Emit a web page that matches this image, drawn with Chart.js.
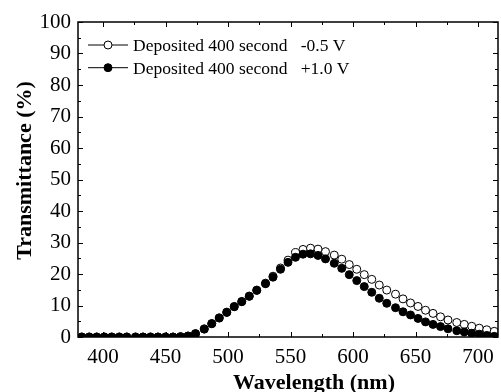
<!DOCTYPE html>
<html>
<head>
<meta charset="utf-8">
<script src="https://cdn.jsdelivr.net/npm/chart.js@4.4.0/dist/chart.umd.min.js"></script>
<style>
  html, body { margin: 0; padding: 0; background: #fff; overflow: hidden; }
  canvas { display: block; }
</style>
</head>
<body>
<canvas id="chart" width="503" height="392"></canvas>
<script>
// wavelength (nm) of each marker
const wavelengths = [383, 389, 395, 401, 407, 413, 419, 426, 432, 438, 444, 450, 456, 462, 468,
    474, 481, 487, 493, 499, 505, 511, 517, 523, 530,
    536, 542, 548, 554, 560, 566, 572, 578, 585, 591,
    597, 603, 609, 615, 621, 627, 634, 640, 646, 652,
    658, 664, 670, 676, 683, 689, 695, 701, 707, 713];

// transmittance (%) at -0.5 V (open circles)
const transNeg = [0, 0, 0, 0, 0, 0, 0, 0, 0, 0, 0, 0, 0, 0.1, 0.3,
    1.1, 2.6, 4.3, 6.1, 7.9, 9.7, 11.3, 13.0, 14.9, 17.1,
    19.3, 21.9, 24.4, 26.8, 27.8, 28.2, 27.9, 27.1, 26.0, 24.7,
    23.0, 21.5, 19.8, 18.3, 16.5, 14.9, 13.6, 12.1, 10.8, 9.7,
    8.5, 7.5, 6.4, 5.4, 4.6, 4.0, 3.4, 2.8, 2.3, 1.8];

// transmittance (%) at +1.0 V (filled circles)
const transPos = [0, 0, 0, 0, 0, 0, 0, 0, 0, 0, 0, 0, 0, 0.1, 0.3,
    1.0, 2.5, 4.2, 6.0, 7.8, 9.6, 11.2, 12.9, 14.8, 16.9,
    19.0, 21.5, 23.7, 25.3, 26.3, 26.4, 25.9, 24.8, 23.4, 21.8,
    19.8, 17.9, 16.0, 14.2, 12.3, 10.7, 9.3, 8.0, 7.0, 5.9,
    4.8, 4.0, 3.3, 2.6, 2.0, 1.6, 1.2, 0.9, 0.5, 0.2];

const seriesLabels = ['Deposited 400 second   -0.5 V', 'Deposited 400 second   +1.0 V'];

const xTicks = [400, 450, 500, 550, 600, 650, 700];
const xMinorTicks = [425, 475, 525, 575, 625, 675];
const yTicks = [0, 10, 20, 30, 40, 50, 60, 70, 80, 90, 100];
const yMinorTicks = [5, 15, 25, 35, 45, 55, 65, 75, 85, 95];

const serif = "'Liberation Serif', 'Times New Roman', serif";

function toPoints(values) {
    return wavelengths.map((w, i) => ({x: w, y: values[i]}));
}

// box, inward ticks, axis titles and the legend
const framePlugin = {
    id: 'frame',
    afterDraw(chart) {
        const ctx = chart.ctx;
        const a = chart.chartArea;
        const xs = chart.scales.x, ys = chart.scales.y;

        ctx.save();
        ctx.strokeStyle = '#000';
        ctx.lineWidth = 1.5;
        ctx.strokeRect(a.left, a.top, a.right - a.left, a.bottom - a.top);

        ctx.lineWidth = 1;
        const seg = (x1, y1, x2, y2) => {
            ctx.beginPath();
            ctx.moveTo(x1, y1);
            ctx.lineTo(x2, y2);
            ctx.stroke();
        };
        xTicks.forEach(v => {
            const px = Math.round(xs.getPixelForValue(v)) + 0.5;
            seg(px, a.bottom, px, a.bottom - 5);
            seg(px, a.top, px, a.top + 5);
        });
        xMinorTicks.forEach(v => {
            const px = Math.round(xs.getPixelForValue(v)) + 0.5;
            seg(px, a.bottom, px, a.bottom - 3);
            seg(px, a.top, px, a.top + 3);
        });
        yTicks.forEach(v => {
            const py = Math.round(ys.getPixelForValue(v)) + 0.5;
            seg(a.left, py, a.left + 5, py);
            seg(a.right, py, a.right - 5, py);
        });
        yMinorTicks.forEach(v => {
            const py = Math.round(ys.getPixelForValue(v)) + 0.5;
            seg(a.left, py, a.left + 3, py);
            seg(a.right, py, a.right - 3, py);
        });

        // axis titles
        ctx.fillStyle = '#000';
        ctx.font = 'bold 22px ' + serif;
        ctx.textAlign = 'center';
        ctx.textBaseline = 'alphabetic';
        ctx.fillText('Wavelength (nm)', a.left + 236, 389);
        ctx.save();
        ctx.translate(31, (a.top + a.bottom) / 2 - 9);
        ctx.rotate(-Math.PI / 2);
        ctx.fillText('Transmittance (%)', 0, 0);
        ctx.restore();

        // legend: line - marker - line, then label
        ctx.font = '17.5px ' + serif;
        ctx.textAlign = 'left';
        ctx.textBaseline = 'middle';
        chart.data.datasets.forEach((ds, i) => {
            const cy = 45 + i * 22.7;
            ctx.strokeStyle = '#000';
            ctx.lineWidth = 1;
            seg(a.left + 10, cy, a.left + 50, cy);
            ctx.beginPath();
            ctx.arc(a.left + 30, cy, 4, 0, Math.PI * 2);
            ctx.fillStyle = ds.pointBackgroundColor;
            ctx.fill();
            ctx.stroke();
            ctx.fillStyle = '#000';
            ctx.fillText(ds.label, a.left + 55, cy + 1.5);
        });
        ctx.restore();
    }
};

const chart = new Chart(document.getElementById('chart'), {
    type: 'line',
    data: {
        datasets: [{
            label: seriesLabels[0],
            data: toPoints(transNeg),
            showLine: false,
            pointRadius: 4,
            pointBorderWidth: 1,
            pointBorderColor: '#000',
            pointBackgroundColor: '#fff',
            order: 2
        }, {
            label: seriesLabels[1],
            data: toPoints(transPos),
            showLine: false,
            pointRadius: 4,
            pointBorderWidth: 1,
            pointBorderColor: '#000',
            pointBackgroundColor: '#000',
            order: 1
        }]
    },
    options: {
        responsive: false,
        animation: false,
        devicePixelRatio: 1,
        layout: {
            padding: {top: 22, right: 1, left: 0, bottom: 0}
        },
        plugins: {
            legend: {display: false},
            tooltip: {enabled: false}
        },
        scales: {
            x: {
                type: 'linear',
                min: 380,
                max: 716,
                grid: {display: false, drawTicks: false},
                border: {display: false},
                afterBuildTicks: s => { s.ticks = xTicks.map(v => ({value: v})); },
                afterFit: s => { s.height = 55; },
                ticks: {
                    color: '#000',
                    padding: 8,
                    maxRotation: 0,
                    font: {family: serif, size: 21}
                }
            },
            y: {
                min: 0,
                max: 100,
                grid: {display: false, drawTicks: false},
                border: {display: false},
                afterBuildTicks: s => { s.ticks = yTicks.map(v => ({value: v})); },
                afterFit: s => { s.width = 78; },
                ticks: {
                    color: '#000',
                    padding: 7,
                    font: {family: serif, size: 21}
                }
            }
        }
    },
    plugins: [framePlugin]
});
</script>
</body>
</html>
